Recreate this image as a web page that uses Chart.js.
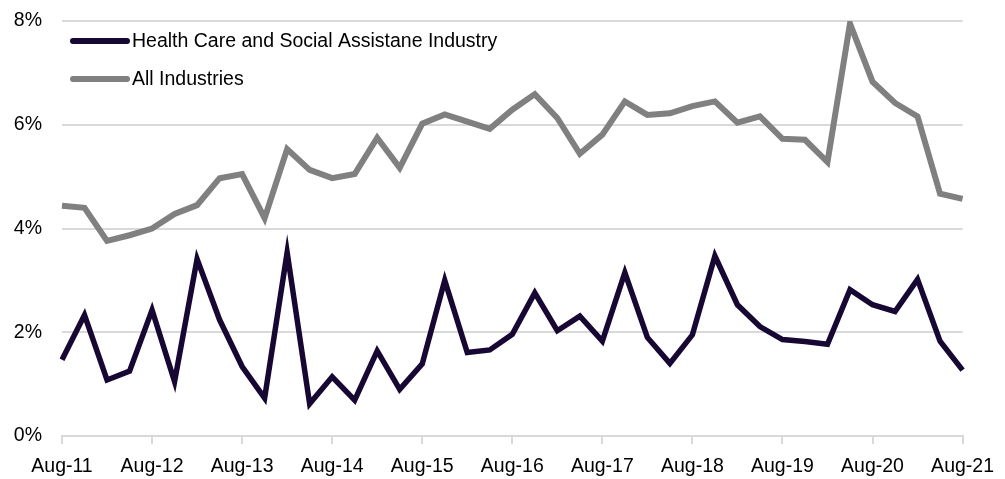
<!DOCTYPE html>
<html>
<head>
<meta charset="utf-8">
<script src="https://cdn.jsdelivr.net/npm/chart.js@4"></script>
<style>
  html, body { margin: 0; padding: 0; background: #fff; }
  #wrap { width: 1005px; height: 479px; }
</style>
</head>
<body>
<div id="wrap"><canvas id="rateChart" width="1005" height="479"></canvas></div>
<script>
// quarterly points, Aug-11 .. Aug-21
const months = ['Aug', 'Nov', 'Feb', 'May'];
const quarters = [];
for (let i = 0; i <= 40; i++) {
    quarters.push(months[i % 4] + '-' + String(11 + Math.floor((i + 2) / 4)).padStart(2, '0'));
}

// Health care & social assistance (%)
const healthCare = [
    1.47, 2.33, 1.08, 1.25, 2.43, 1.05, 3.41, 2.24, 1.34, 0.73,
    3.54, 0.62, 1.14, 0.69, 1.64, 0.90, 1.39, 3.00, 1.61, 1.66,
    1.96, 2.76, 2.03, 2.31, 1.83, 3.15, 1.90, 1.40, 1.95, 3.47,
    2.53, 2.11, 1.86, 1.82, 1.77, 2.82, 2.53, 2.40, 3.02, 1.83,
    1.27
];

// All industries (%)
const allIndustries = [
    4.44, 4.40, 3.76, 3.87, 4.00, 4.28, 4.45, 4.97, 5.05, 4.20,
    5.53, 5.13, 4.97, 5.05, 5.75, 5.17, 6.02, 6.20, 6.06, 5.92,
    6.29, 6.59, 6.13, 5.44, 5.81, 6.45, 6.19, 6.22, 6.36, 6.45,
    6.04, 6.16, 5.73, 5.71, 5.28, 7.95, 6.83, 6.42, 6.16, 4.67,
    4.57
];

const yTicks = [0, 2, 4, 6, 8];
const fontFamily = '"Liberation Sans", Arial, sans-serif';
const fontSize = 19.5;

// legend drawn as two stacked rows in the top-left of the plot
const insideLegend = {
    id: 'insideLegend',
    afterDraw(chart) {
        const ctx = chart.ctx;
        const left = chart.chartArea.left + 11;
        let y = 41;
        ctx.save();
        ctx.font = fontSize + 'px ' + fontFamily;
        ctx.textBaseline = 'middle';
        chart.data.datasets.forEach(ds => {
            ctx.strokeStyle = ds.borderColor;
            ctx.lineWidth = 6;
            ctx.lineCap = 'round';
            ctx.beginPath();
            ctx.moveTo(left, y);
            ctx.lineTo(left + 54, y);
            ctx.stroke();
            ctx.fillStyle = '#000';
            ctx.fillText(ds.label, left + 59, y + 1);
            y += 38;
        });
        ctx.restore();
    }
};

const ctx = document.getElementById('rateChart').getContext('2d');
new Chart(ctx, {
    type: 'line',
    data: {
        labels: quarters,
        datasets: [{
            label: 'Health Care and Social Assistane Industry',
            data: healthCare,
            borderColor: '#170733',
            borderWidth: 5.5,
            pointRadius: 0,
            tension: 0
        }, {
            label: 'All Industries',
            data: allIndustries,
            borderColor: '#808080',
            borderWidth: 6,
            pointRadius: 0,
            tension: 0
        }]
    },
    options: {
        responsive: false,
        animation: false,
        layout: { padding: { top: 21, right: 41, left: 0, bottom: 0 } },
        plugins: {
            legend: { display: false },
            tooltip: { enabled: false }
        },
        scales: {
            x: {
                offset: false,
                border: { display: true, color: '#d9d9d9', width: 2 },
                grid: {
                    drawOnChartArea: false,
                    tickLength: 8,
                    lineWidth: 2,
                    color: c => (c.index % 4 === 0 ? '#d9d9d9' : 'rgba(0,0,0,0)')
                },
                ticks: {
                    autoSkip: false,
                    maxRotation: 0,
                    padding: 11,
                    color: '#000',
                    font: { family: fontFamily, size: fontSize },
                    callback: (v, i) => (i % 4 === 0 ? quarters[i] : '')
                },
                afterFit: s => { s.height = 43; }
            },
            y: {
                min: 0,
                max: 8,
                border: { display: false },
                grid: { color: '#d9d9d9', lineWidth: 2, drawTicks: false },
                afterBuildTicks: s => { s.ticks = yTicks.map(v => ({ value: v })); },
                ticks: {
                    padding: 20,
                    color: '#000',
                    font: { family: fontFamily, size: fontSize },
                    callback: v => v + '%'
                },
                afterFit: s => {
                    s.width = 62;
                    s.paddingTop = 0;
                    s.paddingBottom = 0;
                }
            }
        }
    },
    plugins: [insideLegend]
});
</script>
</body>
</html>
